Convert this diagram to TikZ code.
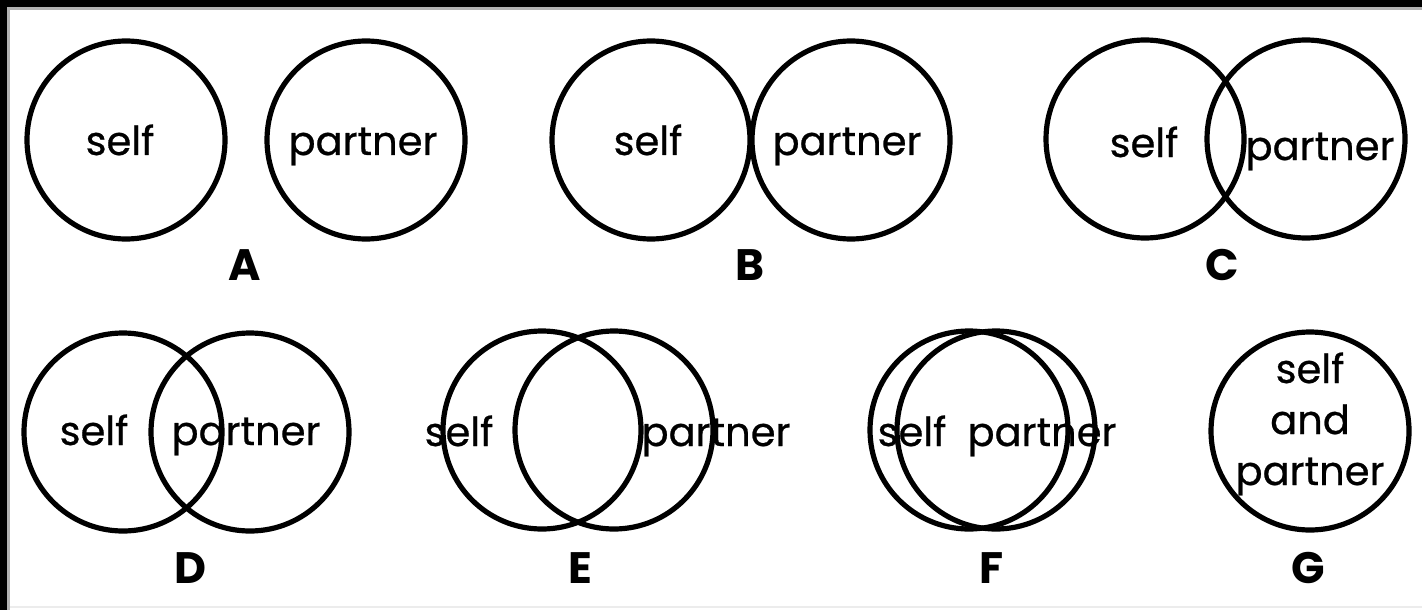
\documentclass[tikz,border=0pt]{standalone}
\usepackage{fontspec}
\setmainfont{Poppins}
\newfontfamily\wordfont{Poppins}[FakeBold=0.6]
\begin{document}
\begin{tikzpicture}[x=0.5pt,y=-0.5pt,
  ring/.style={draw=black,circle,line width=2.6pt,inner sep=0pt,minimum size=#1},
  ring/.default=99pt,
  word/.style={font=\wordfont\fontsize{20}{25.5}\selectfont,inner sep=0pt,anchor=base},
  tag/.style={font=\fontsize{22}{26}\selectfont\bfseries,inner sep=0pt,anchor=base}]
\useasboundingbox (0,0) rectangle (1422,610);
\fill[white] (0,0) rectangle (1422,610);
\fill[black] (0,0) rectangle (1422,7);
\fill[black] (0,0) rectangle (7,610);
\fill[gray!60] (7,7) rectangle (1422,10);
\fill[gray!60] (7,7) rectangle (10,610);
\fill[gray!15] (10,606) rectangle (1422,608);
% A
\node[ring] (as) at (126,140) {};
\node[ring] (ap) at (366,140) {};
\node[word] (ast) at (120,155) {self};
\node[word] (apt) at (363,155) {partner};
\node[tag] (la) at (245,280) {A};
% B
\node[ring] (bs) at (651,140) {};
\node[ring] (bp) at (851,140) {};
\node[word] (bst) at (648,155) {self};
\node[word] (bpt) at (847,155) {partner};
\node[tag] (lb) at (750,280) {B};
% C
\node[ring] (cs) at (1145,139) {};
\node[ring] (cp) at (1306,139) {};
\node[word] (cst) at (1144,157) {self};
\node[word] (cpt) at (1320,160) {partner};
\node[tag] (lc) at (1222,280) {C};
% D
\node[ring] (ds) at (123,432) {};
\node[ring] (dp) at (250,432) {};
\node[word] (dst) at (94,445) {self};
\node[word] (dpt) at (246,445) {partner};
\node[tag] (ld) at (190,583) {D};
% E
\node[ring] (es) at (542,430) {};
\node[ring] (ep) at (614,430) {};
\node[word] (est) at (459,446) {self};
\node[word] (ept) at (716,446) {partner};
\node[tag] (le) at (580,583) {E};
% F
\node[ring] (fs) at (969,430) {};
\node[ring] (fp) at (996,430) {};
\node[word] (fst) at (912,446) {self};
\node[word] (fpt) at (1042,446) {partner};
\node[tag] (lf) at (992,583) {F};
% G
\node[ring] (g) at (1310,431) {};
\node[word] (gt1) at (1310,383) {self};
\node[word] (gt2) at (1310,434) {and};
\node[word] (gt3) at (1310,485) {partner};
\node[tag] (lg) at (1308,583) {G};
\end{tikzpicture}
\end{document}
